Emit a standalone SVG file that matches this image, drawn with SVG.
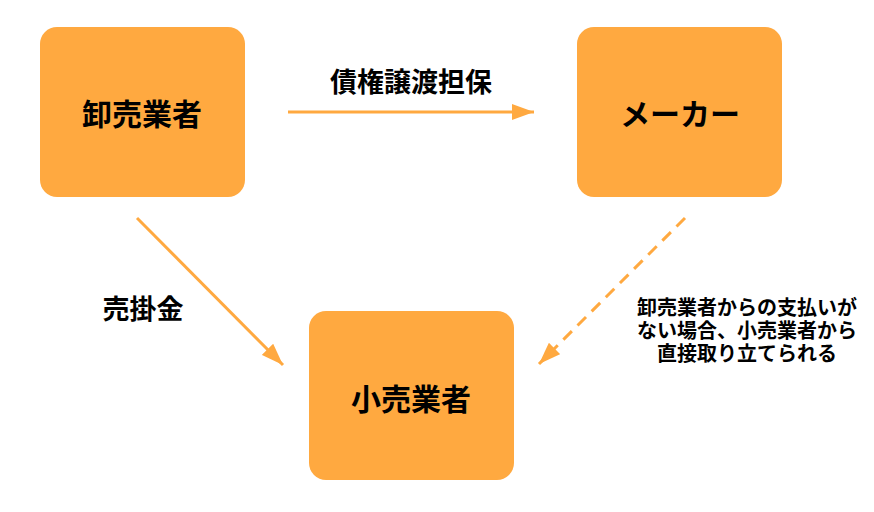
<svg xmlns="http://www.w3.org/2000/svg" width="874" height="512" viewBox="0 0 874 512">
<defs>
<style>
.box{fill:#FFA940;}
.t{font-family:"Noto Sans CJK JP","Noto Sans CJK SC",sans-serif;font-weight:bold;fill:#000;text-anchor:middle;dominant-baseline:central;}
.big{font-size:30px;}
.lab{font-size:27px;}
.sm{font-size:20px;}
.ln{stroke:#FFA940;stroke-width:3;fill:none;}
.dash{stroke-dasharray:12,8;}
</style>
<marker id="ah" viewBox="0 0 22 16" refX="22" refY="8" markerWidth="22" markerHeight="16" markerUnits="userSpaceOnUse" orient="auto">
<path d="M0,0 L22,8 L0,16 Z" fill="#FFA940"/>
</marker>
</defs>
<rect width="874" height="512" fill="#fff"/>
<g id="node-oroshi">
<rect class="box" x="40" y="27" width="205" height="170" rx="17"/>
<text class="t big" x="142" y="112">卸売業者</text>
</g>
<g id="node-maker">
<rect class="box" x="577" y="27" width="205" height="170" rx="17"/>
<text class="t big" x="680" y="112">メーカー</text>
</g>
<g id="node-kouri">
<rect class="box" x="309" y="311" width="205" height="169" rx="17"/>
<text class="t big" x="411" y="397">小売業者</text>
</g>
<g id="connectors">
<line class="ln" x1="288" y1="112" x2="534" y2="112" marker-end="url(#ah)"/>
<line class="ln" x1="137" y1="218" x2="283" y2="365" marker-end="url(#ah)"/>
<line class="ln dash" x1="685" y1="218" x2="539" y2="364" marker-end="url(#ah)"/>
</g>
<g id="labels">
<text class="t lab" x="411" y="80">債権譲渡担保</text>
<text class="t lab" x="143" y="307">売掛金</text>
<text class="t sm" x="747" y="306">卸売業者からの支払いが</text>
<text class="t sm" x="747" y="329">ない場合、小売業者から</text>
<text class="t sm" x="747" y="352">直接取り立てられる</text>
</g>
</svg>
